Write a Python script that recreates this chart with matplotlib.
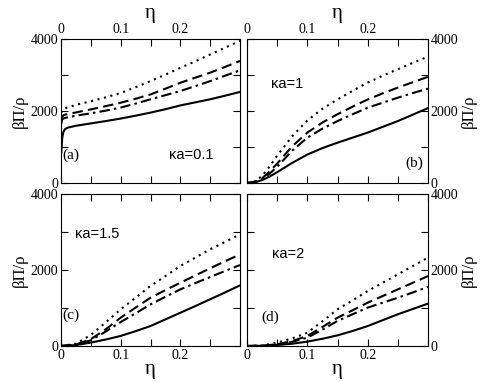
import matplotlib
matplotlib.use("Agg")
import matplotlib.pyplot as plt
from matplotlib.ticker import MultipleLocator

# Panel (a): kappa*a = 0.1
eta_a = [0.0005, 0.002, 0.004, 0.007, 0.012, 0.025, 0.05, 0.075, 0.1, 0.125,
         0.15, 0.175, 0.2, 0.225, 0.25, 0.275, 0.3]
a_solid = [850, 1250, 1420, 1500, 1540, 1590, 1655, 1720, 1790, 1870,
           1955, 2050, 2155, 2240, 2325, 2425, 2530]
a_dash = [1720, 1830, 1880, 1900, 1915, 1960, 2045, 2135, 2230, 2340,
          2460, 2620, 2785, 2925, 3065, 3225, 3390]
a_dashdot = [1650, 1760, 1790, 1810, 1825, 1870, 1935, 2010, 2095, 2205,
             2325, 2440, 2555, 2690, 2830, 2980, 3130]
a_dot = [1950, 2030, 2060, 2080, 2100, 2170, 2270, 2380, 2500, 2660,
         2830, 3010, 3200, 3380, 3570, 3760, 3950]

# Panel (b): kappa*a = 1
eta_b = [0.0, 0.0125, 0.025, 0.0375, 0.05, 0.075, 0.1, 0.125, 0.15, 0.175,
         0.2, 0.225, 0.25, 0.275, 0.3]
b_solid = [0, 15, 80, 180, 300, 560, 790, 970, 1120, 1260,
           1400, 1560, 1720, 1900, 2080]
b_dash = [0, 30, 130, 320, 540, 1020, 1400, 1680, 1910, 2120,
          2320, 2490, 2650, 2800, 2950]
b_dashdot = [0, 25, 110, 260, 450, 900, 1260, 1510, 1720, 1910,
             2090, 2230, 2370, 2500, 2620]
b_dot = [0, 40, 195, 460, 760, 1300, 1740, 2060, 2320, 2560,
         2790, 2980, 3160, 3340, 3510]

# Panel (c): kappa*a = 1.5
eta_c = [0.0, 0.025, 0.05, 0.075, 0.1, 0.125, 0.15, 0.175, 0.2, 0.225,
         0.25, 0.275, 0.3]
c_solid = [0, 25, 90, 170, 265, 390, 525, 700, 875, 1050, 1230, 1410, 1595]
c_dash = [0, 40, 180, 440, 745, 1010, 1270, 1470, 1665, 1855, 2045, 2230, 2410]
c_dashdot = [0, 35, 150, 380, 630, 860, 1095, 1295, 1490, 1655, 1815, 1975, 2130]
c_dot = [0, 60, 290, 620, 965, 1270, 1580, 1840, 2105, 2325, 2545, 2740, 2940]

# Panel (d): kappa*a = 2
eta_d = [0.0, 0.025, 0.05, 0.075, 0.1, 0.125, 0.15, 0.175, 0.2, 0.225,
         0.25, 0.275, 0.3]
d_solid = [0, 5, 26, 60, 115, 190, 280, 395, 525, 680, 835, 975, 1115]
d_dash = [0, 8, 45, 130, 265, 500, 745, 940, 1140, 1315, 1490, 1665, 1840]
d_dashdot = [0, 6, 30, 110, 220, 430, 660, 835, 1010, 1140, 1270, 1410, 1555]
d_dot = [0, 12, 90, 200, 350, 650, 965, 1200, 1445, 1665, 1885, 2105, 2325]

kappa_labels = ["κa=0.1", "κa=1", "κa=1.5", "κa=2"]
panel_labels = ["(a)", "(b)", "(c)", "(d)"]
x_ticks = [0, 0.1, 0.2]
x_ticklabels = ["0", "0.1", "0.2"]
y_ticks = [0, 2000, 4000]
y_ticklabels = ["0", "2000", "4000"]

serif = "Liberation Serif"
sans = "Liberation Sans"

fig = plt.figure(figsize=(4.94, 3.82), dpi=100)
W, H = 494, 382


def rect(l, t, r, b):
    return [l / W, 1 - b / H, (r - l) / W, (b - t) / H]


axes = [
    fig.add_axes(rect(61, 39, 240, 183)),
    fig.add_axes(rect(247, 39, 428, 183)),
    fig.add_axes(rect(61, 194, 240, 346)),
    fig.add_axes(rect(247, 194, 428, 346)),
]

datasets = [
    (eta_a, a_solid, a_dash, a_dashdot, a_dot),
    (eta_b, b_solid, b_dash, b_dashdot, b_dot),
    (eta_c, c_solid, c_dash, c_dashdot, c_dot),
    (eta_d, d_solid, d_dash, d_dashdot, d_dot),
]

kpos = [(0.181, 780), (0.04, 2750), (0.024, 2950), (0.041, 2420)]
ppos = [(0.003, 760), (0.262, 560), (0.003, 800), (0.023, 760)]

for i, ax in enumerate(axes):
    x, s, da, dd, do = datasets[i]
    ax.plot(x, do, color="black", lw=1.5, linestyle=(0, (1, 2.2)))
    ax.plot(x, da, color="black", lw=1.5, linestyle=(0, (5, 2.5)))
    ax.plot(x, dd, color="black", lw=1.5, linestyle=(0, (5, 2, 1.2, 2)))
    ax.plot(x, s, color="black", lw=1.5)
    ax.set_xlim(0, 0.3)
    ax.set_ylim(0, 4000)
    ax.set_xticks(x_ticks)
    ax.set_xticklabels(x_ticklabels)
    ax.set_yticks(y_ticks)
    ax.set_yticklabels(y_ticklabels)
    ax.xaxis.set_minor_locator(MultipleLocator(0.05))
    ax.yaxis.set_minor_locator(MultipleLocator(1000))
    ax.tick_params(which="both", direction="in", top=True, right=True,
                   bottom=True, left=True, labelsize=10, width=0.8, length=5)
    ax.tick_params(which="major", pad=2)
    for sp in ax.spines.values():
        sp.set_linewidth(0.8)
    top = i < 2
    rightside = i % 2 == 1
    ax.tick_params(labeltop=top, labelbottom=not top,
                   labelleft=not rightside, labelright=rightside)
    for lab in ax.get_xticklabels() + ax.get_yticklabels():
        lab.set_fontfamily(serif)
    if top:
        ax.xaxis.set_label_position("top")
        ax.set_xlabel("η", fontfamily=serif, fontsize=15, labelpad=4)
    else:
        ax.set_xlabel("η", fontfamily=serif, fontsize=15, labelpad=-1)
    if rightside:
        ax.yaxis.set_label_position("right")
    ax.set_ylabel("βΠ/ρ", fontfamily=serif, fontsize=12, labelpad=2)
    ax.text(kpos[i][0], kpos[i][1], kappa_labels[i], fontfamily=sans,
            fontsize=10.5, va="center", ha="left")
    ax.text(ppos[i][0], ppos[i][1], panel_labels[i], fontfamily=serif,
            fontsize=11, va="center", ha="left")

fig.savefig("out.png", dpi=100)
